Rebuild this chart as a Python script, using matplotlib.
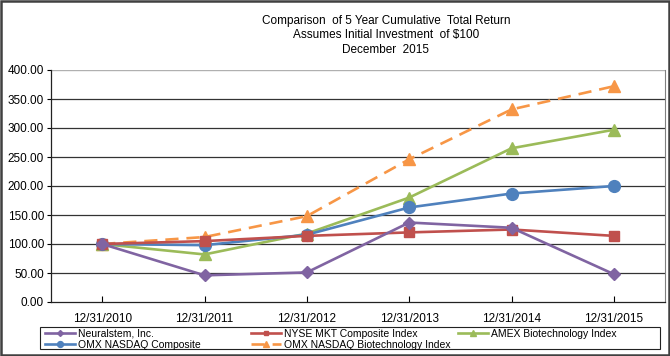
import matplotlib
matplotlib.use('Agg')
import matplotlib.pyplot as plt
import matplotlib.patches as mpatches

plt.rcParams['font.family'] = ['Liberation Sans', 'DejaVu Sans']

# ── 数据 ──
dates = ['12/31/2010', '12/31/2011', '12/31/2012', '12/31/2013', '12/31/2014', '12/31/2015']
neuralstem = [100, 46, 51, 137, 128, 48]
nyse_mkt = [100, 105, 114, 120, 125, 114]
amex_bio = [100, 82, 118, 180, 265, 297]
omx_comp = [100, 98, 116, 163, 187, 200]
omx_bio = [100, 112, 148, 246, 332, 372]
yticks = [0, 50, 100, 150, 200, 250, 300, 350, 400]

fig = plt.figure(figsize=(6.7, 3.56), dpi=100)
ax = fig.add_axes([51/670, 1-302/356, 614/670, 232/356])

x = list(range(len(dates)))
lw = 1.9
h1, = ax.plot(x, neuralstem, color='#8064A2', lw=lw, marker='D', ms=6, label='Neuralstem, Inc.', zorder=5)
h2, = ax.plot(x, nyse_mkt, color='#C0504D', lw=lw, marker='s', ms=6.5, label='NYSE MKT Composite Index', zorder=4)
h3, = ax.plot(x, amex_bio, color='#9BBB59', lw=lw, marker='^', ms=8.5, label='AMEX Biotechnology Index', zorder=3)
h4, = ax.plot(x, omx_comp, color='#4F81BD', lw=lw, marker='o', ms=8.5, label='OMX NASDAQ Composite', zorder=3)
h5, = ax.plot(x, omx_bio, color='#F79646', lw=lw, marker='^', ms=8.5, ls=(0, (5, 3)),
              label='OMX NASDAQ Biotechnology Index', zorder=2)

ax.set_xlim(-0.5, 5.5)
ax.set_ylim(0, 400)
ax.set_xticks(x)
ax.set_xticklabels(dates, fontsize=8.5)
ax.set_yticks(yticks)
ax.set_yticklabels([f'{v:.2f}' for v in yticks], fontsize=8.5)
ax.tick_params(axis='x', direction='in', length=4, width=0.8, pad=8)
ax.tick_params(axis='y', direction='out', length=3, width=0.8, pad=2)

for v in yticks[1:-1]:
    ax.axhline(v, color='#333333', lw=0.9, zorder=1)
ax.axhline(400, color='#b0b0b0', lw=1.0, zorder=1)

for s in ['left', 'bottom']:
    ax.spines[s].set_color('#222222')
    ax.spines[s].set_linewidth(0.9)
ax.spines['top'].set_visible(False)
ax.spines['right'].set_color('#808080')
ax.spines['right'].set_linewidth(0.8)

fig.text(386/670, 1-21/356, 'Comparison  of 5 Year Cumulative  Total Return', ha='center', va='center', fontsize=8.5)
fig.text(386/670, 1-35/356, 'Assumes Initial Investment  of $100', ha='center', va='center', fontsize=8.5)
fig.text(386/670, 1-50/356, 'December  2015', ha='center', va='center', fontsize=8.5)

# ── 图例：三列分别放置 ──
leg_cols = [([h1, h4], 43), ([h2, h5], 249), ([h3], 456)]
for handles, xpos in leg_cols:
    fig.legend(handles=handles, ncol=1, fontsize=7.5,
               loc='upper left', bbox_to_anchor=(xpos/670, 1-327/356),
               frameon=False, borderaxespad=0, borderpad=0.15,
               handlelength=2.9, handletextpad=0.3, labelspacing=0.1,
               markerscale=0.5)
fig.add_artist(mpatches.Rectangle((40/670, 1-349/356), 620/670, 22/356, transform=fig.transFigure,
                                  fill=False, edgecolor='#222222', linewidth=0.8))

fig.add_artist(mpatches.Rectangle((0.002, 0.003), 0.996, 0.994, transform=fig.transFigure,
                                  fill=False, edgecolor='#404040', linewidth=1.8))

plt.savefig('out.png', dpi=100)
